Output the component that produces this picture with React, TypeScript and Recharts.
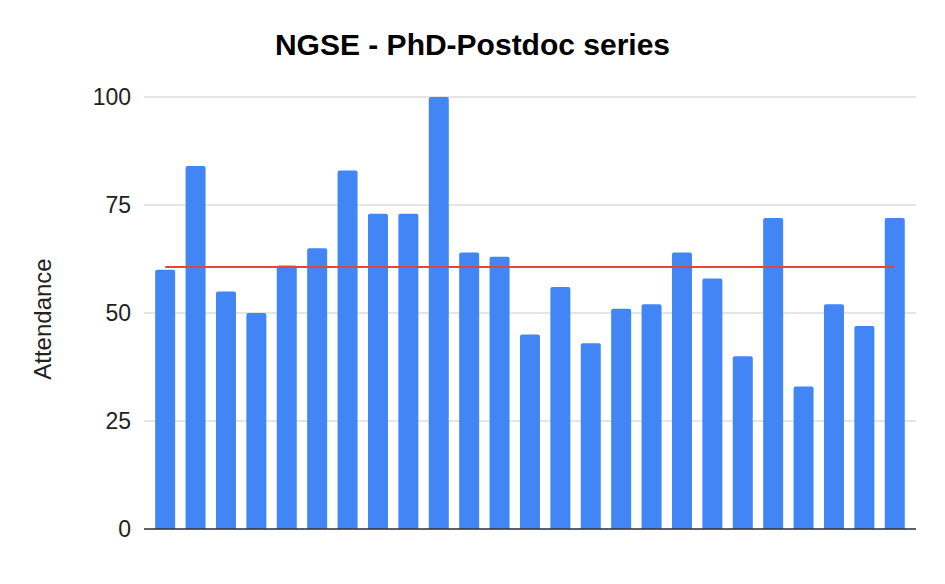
import React from 'react';
import { ComposedChart, Bar, Line, XAxis, YAxis, CartesianGrid } from 'recharts';

const sessions = [
  'S1', 'S2', 'S3', 'S4', 'S5', 'S6', 'S7', 'S8', 'S9', 'S10',
  'S11', 'S12', 'S13', 'S14', 'S15', 'S16', 'S17', 'S18', 'S19', 'S20',
  'S21', 'S22', 'S23', 'S24', 'S25',
];
const attendance = [60, 84, 55, 50, 61, 65, 83, 73, 73, 100, 64, 63, 45, 56, 43, 51, 52, 64, 58, 40, 72, 33, 52, 47, 72];
const averageAttendance = 60.64;
const yTicks = [0, 25, 50, 75, 100];

const data = sessions.map((s, i) => ({ session: s, attendance: attendance[i], average: averageAttendance }));

const FONT = "Arial, 'Liberation Sans', sans-serif";

export default function App() {
  return (
    <div style={{ position: 'absolute', left: 0, top: 0, width: 945, height: 584, background: '#fff', fontFamily: FONT }}>
      <div
        style={{
          position: 'absolute', left: 0, top: 30, width: 945, textAlign: 'center',
          fontSize: 30, fontWeight: 'bold', lineHeight: '30px', color: '#000',
        }}
      >
        NGSE - PhD-Postdoc series
      </div>
      <div
        style={{
          position: 'absolute', left: 43, top: 319, width: 0, height: 0,
        }}
      >
        <div
          style={{
            position: 'absolute', left: 0, top: 0, transform: 'translate(-50%, -50%) rotate(-90deg)',
            fontSize: 24, lineHeight: '24px', whiteSpace: 'nowrap', color: '#222',
          }}
        >
          Attendance
        </div>
      </div>
      <ComposedChart
        width={945}
        height={584}
        data={data}
        margin={{ top: 97, right: 29, bottom: 54, left: 0 }}
        barCategoryGap="17%"
      >
        <CartesianGrid vertical={false} stroke="#cccccc" />
        <XAxis
          dataKey="session"
          tick={false}
          tickLine={false}
          height={1}
          axisLine={{ stroke: '#333333', strokeWidth: 1.5 }}
          padding={{ left: 6, right: 6 }}
        />
        <YAxis
          domain={[0, 100]}
          ticks={yTicks}
          width={144}
          axisLine={false}
          tickLine={false}
          tickMargin={7}
          tick={{ fontSize: 23, fill: '#222', fontFamily: FONT }}
        />
        <Bar dataKey="attendance" fill="#4285f4" radius={[2, 2, 0, 0]} isAnimationActive={false} />
        <Line dataKey="average" stroke="#ea4335" strokeWidth={2} dot={false} activeDot={false} isAnimationActive={false} />
      </ComposedChart>
    </div>
  );
}
